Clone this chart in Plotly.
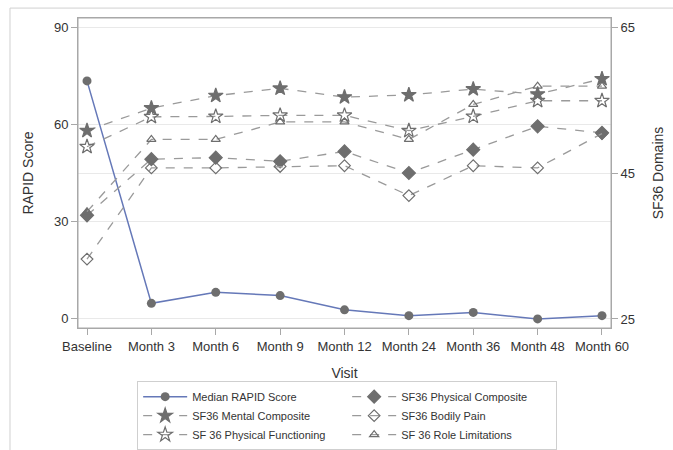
import plotly.graph_objects as go

visits = ["Baseline", "Month 3", "Month 6", "Month 9", "Month 12",
          "Month 24", "Month 36", "Month 48", "Month 60"]
rapid = [73.4, 4.8, 8.2, 7.2, 2.8, 1.0, 2.0, 0.0, 1.0]
mental = [50.8, 53.9, 55.6, 56.6, 55.4, 55.7, 56.5, 55.8, 57.9]
phys_comp = [39.2, 46.9, 47.1, 46.6, 47.95, 45.0, 48.2, 51.4, 50.5]
bodily_pain = [33.2, 45.7, 45.7, 45.9, 46.0, 41.9, 46.0, 45.7, 50.4]
phys_func = [48.6, 52.7, 52.75, 52.9, 52.9, 50.8, 52.75, 54.9, 54.9]
role_lim = [39.7, 49.6, 49.6, 52.0, 52.0, 49.6, 54.4, 56.9, 56.9]

FONT = "Liberation Sans, Arial, sans-serif"
MK = "#6e6e6e"
DL = "#9a9a9a"
BLUE = "#6578b8"

fig = go.Figure()

sf_series = [
    ("SF36 Physical Composite", phys_comp, "diamond", 10, 2),
    ("SF36 Mental Composite", mental, "star", 11, 3),
    ("SF36 Bodily Pain", bodily_pain, "diamond-open", 9, 4),
    ("SF 36 Physical Functioning", phys_func, "star-open", 11, 5),
    ("SF 36 Role Limitations", role_lim, "triangle-up-open", 8, 6),
]
for name, vals, sym, size, rank in sf_series:
    fig.add_trace(go.Scatter(
        x=visits, y=vals, name=name, yaxis="y2", mode="lines+markers",
        line=dict(color=DL, width=1.3, dash="dash"),
        marker=dict(symbol=sym, size=size, color=MK,
                    line=dict(color=MK, width=1.2)),
        legendrank=rank,
    ))

fig.add_trace(go.Scatter(
    x=visits, y=rapid, name="Median RAPID Score", mode="lines+markers",
    line=dict(color=BLUE, width=1.5),
    marker=dict(symbol="circle", size=9, color=MK),
    legendrank=1,
))

# outer border
fig.add_shape(type="rect", xref="paper", yref="paper",
              x0=-0.1276, x1=1.13, y0=-0.42, y1=1.032,
              line=dict(color="#d0d0d0", width=1), fillcolor="rgba(0,0,0,0)",
              layer="below")
axis_line = "#a8a8a8"
# plot frame
fig.add_shape(type="rect", xref="paper", yref="paper",
              x0=0, x1=1, y0=0, y1=1,
              line=dict(color=axis_line, width=1), fillcolor="rgba(0,0,0,0)")

grid = "#e9e9e9"
fig.update_layout(
    width=673, height=450,
    margin=dict(l=78, r=62, t=18, b=122),
    paper_bgcolor="white", plot_bgcolor="white",
    font=dict(family=FONT, size=13, color="#333333"),
    xaxis=dict(
        type="category", categoryorder="array", categoryarray=visits,
        range=[-0.14, 8.14], showgrid=False, showline=True, mirror=True,
        linecolor=axis_line, linewidth=1, ticks="outside", ticklen=6,
        tickcolor=axis_line, tickfont=dict(size=13), automargin=False,
        title=dict(text="Visit", font=dict(size=14), standoff=15),
    ),
    yaxis=dict(
        range=[-2.8, 92.8], tickvals=[0, 30, 60, 90], showgrid=True,
        gridcolor=grid, showline=True, linecolor=axis_line, linewidth=1,
        ticks="outside", ticklen=6, tickcolor=axis_line, zeroline=False,
        tickfont=dict(size=13), automargin=False,
        title=dict(text="RAPID Score", font=dict(size=14), standoff=17),
    ),
    yaxis2=dict(
        overlaying="y", side="right", range=[23.76, 66.24],
        tickvals=[25, 45, 65], showgrid=True, gridcolor=grid,
        showline=True, linecolor=axis_line, linewidth=1,
        ticks="outside", ticklen=6, tickcolor=axis_line, zeroline=False,
        tickfont=dict(size=13), automargin=False,
        title=dict(text="SF36 Domains", font=dict(size=14), standoff=19),
    ),
    legend=dict(
        orientation="h", x=0.111, y=0.153, xanchor="left", yanchor="top",
        xref="paper", yref="container",
        bordercolor="#cfcfcf", borderwidth=1, font=dict(size=11),
        entrywidth=150, tracegroupgap=0, itemwidth=44,
    ),
)

fig.write_html("out.html", config={"displayModeBar": False},
               post_script="document.body.style.margin='0';")
